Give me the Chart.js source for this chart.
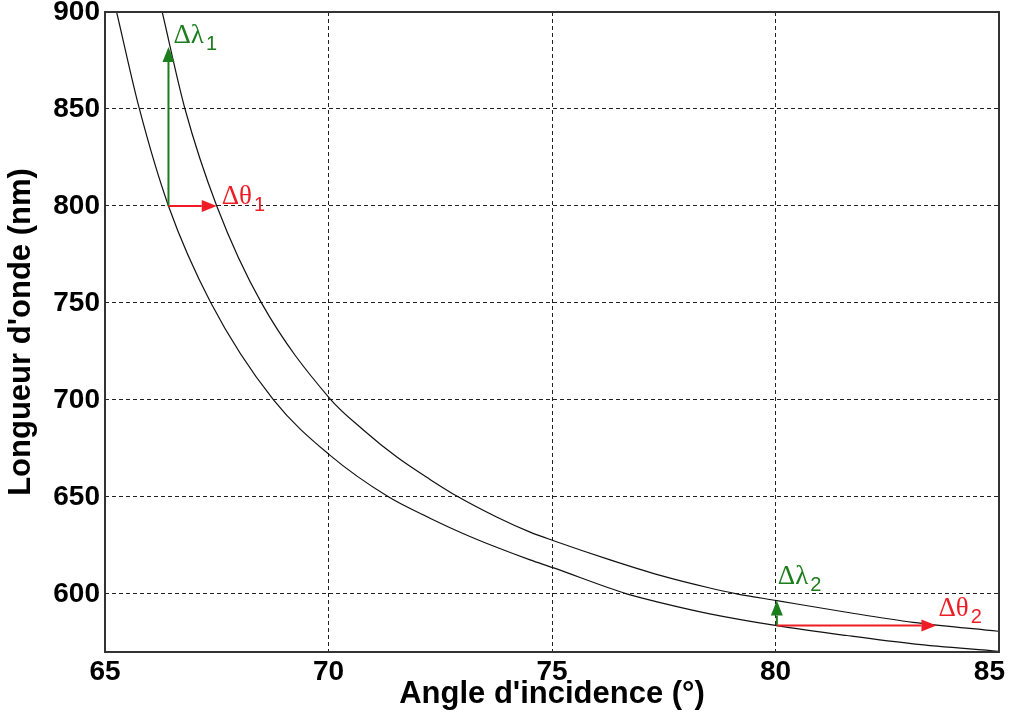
<!DOCTYPE html>
<html>
<head>
<meta charset="utf-8">
<script src="https://cdn.jsdelivr.net/npm/chart.js@4"></script>
<style>
  html, body { margin: 0; padding: 0; background: #fff; }
</style>
</head>
<body>
<canvas id="chart" width="1011" height="720"></canvas>
<script>
// tick labels
const xTicks = [65, 70, 75, 80, 85];
const yTicks = [600, 650, 700, 750, 800, 850, 900];

// lower curve
const innerAngle = [65.26, 65.77, 66.42, 67.37, 68.77, 70.03, 71.34, 72.27, 73.02, 73.76, 74.51, 75.02, 76.67, 77.42, 78.53, 80.03, 81.59, 83.08, 84.98];
const innerLambda = [900, 850, 800, 750, 700, 671.5, 650, 639, 631, 624, 617.5, 613.5, 600, 595.5, 589.7, 583.6, 578.5, 574.2, 570.4];

// upper curve
const outerAngle = [66.28, 66.79, 67.5, 68.5, 70.03, 70.78, 71.53, 72.27, 72.9, 73.76, 74.51, 75.02, 76.3, 77.42, 78.53, 79.13, 80.03, 81.59, 83.08, 84.98];
const outerLambda = [900, 850, 800, 750, 700.7, 684.5, 670.5, 659, 650, 639.6, 631.8, 627.5, 617.5, 609.5, 603, 600, 596.5, 590.5, 585.3, 580.7];

// annotation arrows: d lambda 1, d theta 1, d lambda 2, d theta 2
const arrowGreek = ['λ', 'θ', 'λ', 'θ'];
const arrowIndex = ['1', '1', '2', '2'];
const arrowFromX = [66.42, 66.42, 80.03, 80.03];
const arrowFromY = [800, 800, 583.6, 583.6];
const arrowToX = [66.42, 67.5, 80.03, 83.6];
const arrowToY = [882, 800, 596.5, 583.6];

const GREEN = '#1c7d1c';
const RED = '#ee1c24';
const arrowColor = [GREEN, RED, GREEN, RED];
const labelOffset = [[5, -4], [5, -2], [1, -17], [2, -10]];
const TICK_FONT = 'bold 28px "Liberation Sans"';

const toPoints = (xs, ys) => xs.map((x, i) => ({ x: x, y: ys[i] }));

const arrowsPlugin = {
  id: 'arrows',
  beforeDraw(chart) {
    const ctx = chart.ctx;
    ctx.save();
    ctx.fillStyle = '#fff';
    ctx.fillRect(0, 0, chart.width, chart.height);
    ctx.restore();
  },
  afterDatasetsDraw(chart) {
    const { ctx, scales: { x, y } } = chart;
    ctx.save();
    for (let i = 0; i < arrowFromX.length; i++) {
      const x0 = x.getPixelForValue(arrowFromX[i]);
      const y0 = y.getPixelForValue(arrowFromY[i]);
      const x1 = x.getPixelForValue(arrowToX[i]);
      const y1 = y.getPixelForValue(arrowToY[i]);
      const ang = Math.atan2(y1 - y0, x1 - x0);
      const headLen = 15, headW = 6;
      const bx = x1 - headLen * Math.cos(ang);
      const by = y1 - headLen * Math.sin(ang);
      ctx.strokeStyle = arrowColor[i];
      ctx.fillStyle = arrowColor[i];
      ctx.lineWidth = 2;
      ctx.beginPath();
      ctx.moveTo(x0, y0);
      ctx.lineTo(bx, by);
      ctx.stroke();
      ctx.beginPath();
      ctx.moveTo(x1, y1);
      ctx.lineTo(bx - headW * Math.sin(ang), by + headW * Math.cos(ang));
      ctx.lineTo(bx + headW * Math.sin(ang), by - headW * Math.cos(ang));
      ctx.closePath();
      ctx.fill();

      // label: Delta + greek + subscript
      let lx = x1 + labelOffset[i][0];
      const ly = y1 + labelOffset[i][1];
      ctx.textBaseline = 'alphabetic';
      ctx.textAlign = 'left';
      ctx.font = '27px "Liberation Serif"';
      const main = 'Δ' + arrowGreek[i];
      ctx.fillText(main, lx, ly);
      lx += ctx.measureText(main).width + 2;
      ctx.font = '20px "Liberation Sans"';
      ctx.fillText(arrowIndex[i], lx, ly + 7);
    }
    ctx.restore();
  },
  afterDraw(chart) {
    const { ctx, chartArea: a, scales: { x } } = chart;
    ctx.save();
    ctx.strokeStyle = '#333';
    ctx.lineWidth = 2;
    ctx.strokeRect(a.left, a.top, a.right - a.left, a.bottom - a.top);

    // x tick labels, kept inside the canvas like the original
    ctx.font = TICK_FONT;
    ctx.fillStyle = '#000';
    ctx.textAlign = 'center';
    ctx.textBaseline = 'top';
    xTicks.forEach(v => {
      const label = String(v);
      const w = ctx.measureText(label).width;
      let px = x.getPixelForValue(v);
      px = Math.min(px, chart.width - 6 - w / 2);
      ctx.fillText(label, px, a.bottom + 6);
    });
    ctx.restore();
  }
};

new Chart(document.getElementById('chart'), {
  type: 'line',
  data: {
    datasets: [
      {
        label: 'inner',
        data: toPoints(innerAngle, innerLambda),
        borderColor: '#111',
        borderWidth: 1.2,
        pointRadius: 0,
        cubicInterpolationMode: 'monotone'
      },
      {
        label: 'outer',
        data: toPoints(outerAngle, outerLambda),
        borderColor: '#111',
        borderWidth: 1.2,
        pointRadius: 0,
        cubicInterpolationMode: 'monotone'
      }
    ]
  },
  options: {
    responsive: false,
    animation: false,
    devicePixelRatio: 1,
    layout: { padding: { top: 12, right: 12, left: 0, bottom: 0 } },
    plugins: {
      legend: { display: false },
      tooltip: { enabled: false }
    },
    scales: {
      x: {
        type: 'linear',
        min: 65,
        max: 85,
        afterBuildTicks: (s) => { s.ticks = xTicks.map(v => ({ value: v })); },
        afterFit: (s) => { s.height = 68; s.paddingLeft = 0; s.paddingRight = 0; },
        grid: { color: '#222', lineWidth: 1, drawTicks: false },
        border: { display: false, dash: [4, 3] },
        ticks: { display: false },
        title: {
          display: true,
          text: "Angle d'incidence (°)",
          color: '#000',
          padding: { top: 0, bottom: 7 },
          font: { family: '"Liberation Sans"', size: 31, weight: 'bold' }
        }
      },
      y: {
        type: 'linear',
        min: 570,
        max: 900,
        afterBuildTicks: (s) => { s.ticks = yTicks.map(v => ({ value: v })); },
        afterFit: (s) => { s.width = 105; s.paddingTop = 0; s.paddingBottom = 0; },
        grid: { color: '#222', lineWidth: 1, drawTicks: false },
        border: { display: false, dash: [4, 3] },
        ticks: {
          padding: 5,
          color: '#000',
          font: { family: '"Liberation Sans"', size: 28, weight: 'bold' }
        },
        title: {
          display: true,
          text: "Longueur d'onde (nm)",
          color: '#000',
          padding: { top: 3, bottom: 0 },
          font: { family: '"Liberation Sans"', size: 31, weight: 'bold' }
        }
      }
    }
  },
  plugins: [arrowsPlugin]
});
</script>
</body>
</html>
